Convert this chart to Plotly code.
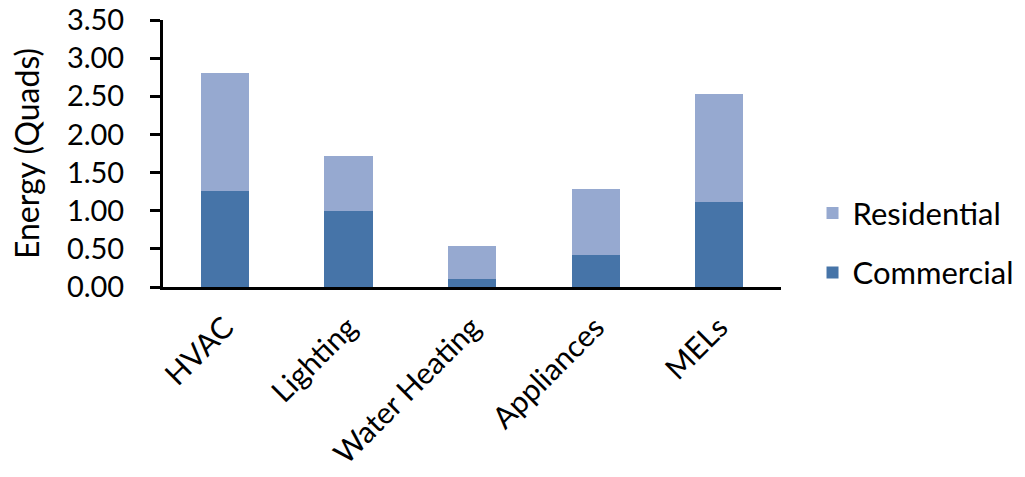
import plotly.graph_objects as go

categories = ["HVAC", "Lighting", "Water Heating", "Appliances", "MELs"]
commercial = [1.26, 1.00, 0.10, 0.42, 1.11]
residential = [1.54, 0.72, 0.44, 0.86, 1.42]

FONT = "Lato"

fig = go.Figure()
fig.add_trace(go.Bar(name="Commercial", x=categories, y=commercial,
                     marker=dict(color="#4674a8", line=dict(width=0)),
                     legendgroup="c", legendrank=2))
fig.add_trace(go.Bar(name="Residential", x=categories, y=residential,
                     marker=dict(color="#96a9d0", line=dict(width=0)),
                     legendgroup="r", legendrank=1))

fig.update_layout(
    width=1025, height=477,
    barmode="stack", bargap=0.61,
    paper_bgcolor="white", plot_bgcolor="white",
    margin=dict(l=163, r=244, t=20, b=190, autoexpand=False),
    font=dict(family=FONT, color="black"),
    legend=dict(traceorder="grouped", x=1.051, xanchor="left", y=0.165, yanchor="middle",
                font=dict(size=31, family=FONT), tracegroupgap=16,
                itemwidth=30, bgcolor="rgba(0,0,0,0)"),
    xaxis=dict(showline=True, linecolor="black", linewidth=3, ticks="",
               tickangle=-45, tickfont=dict(size=30, family=FONT),
               ticklabelstandoff=8, showgrid=False, automargin=False),
    yaxis=dict(range=[0, 3.5], dtick=0.5, tickformat=".2f",
               showline=True, linecolor="black", linewidth=3,
               ticks="outside", ticklen=10, tickwidth=3, tickcolor="black",
               tickfont=dict(size=29, family=FONT), ticklabelstandoff=20,
               showgrid=False, zeroline=False, automargin=False,
               title=dict(text="Energy (Quads)", font=dict(size=32, family=FONT), standoff=18)),
)

fig.write_html("out.html", config={"displayModeBar": False},
               post_script="document.body.style.margin='0';document.body.style.overflow='hidden';")
